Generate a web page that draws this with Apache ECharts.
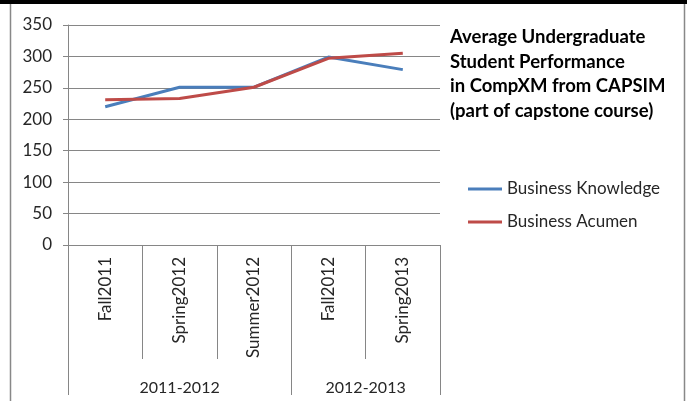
<!DOCTYPE html>
<html>
<head>
<meta charset="utf-8">
<script src="https://cdn.jsdelivr.net/npm/echarts@6/dist/echarts.min.js"></script>
<style>
  html, body { margin: 0; padding: 0; background: #fff; }
  #chart { width: 687px; height: 401px; }
</style>
</head>
<body>
<div id="chart"></div>
<script>
// Semesters along the bottom axis, grouped by academic year
const semesters = ['Fall2011', 'Spring2012', 'Summer2012', 'Fall2012', 'Spring2013'];
const yearGroups = ['2011-2012', '2012-2013'];
const yearGroupSizes = [3, 2];

// Average CompXM scores
const businessKnowledge = [220, 251, 251, 299, 279];
const businessAcumen = [231, 233, 251, 297, 305];

const yTicks = [0, 50, 100, 150, 200, 250, 300, 350];

const titleText = 'Average Undergraduate\nStudent Performance\nin CompXM from CAPSIM\n(part of capstone course)';

// Group boundaries and label centers, in semester units
const groupEdges = [0];
yearGroupSizes.forEach(function (n) { groupEdges.push(groupEdges[groupEdges.length - 1] + n); });
const groupCenters = yearGroupSizes.map(function (n, i) { return groupEdges[i] + n / 2; });

const FONT = 'Lato, "Open Sans", sans-serif';
const TEXT = '#262626';
const GRID = '#868686';

const chart = echarts.init(document.getElementById('chart'), null, { renderer: 'canvas' });

chart.setOption({
  backgroundColor: '#ffffff',
  animation: false,
  title: {
    text: titleText,
    left: 445,
    top: 20,
    textStyle: { fontFamily: FONT, fontSize: 18.5, fontWeight: 'bold', color: '#000', lineHeight: 24.5 }
  },
  legend: {
    orient: 'vertical',
    left: 463,
    top: 174,
    itemWidth: 34,
    itemHeight: 3,
    itemGap: 13,
    icon: 'rect',
    textStyle: { fontFamily: FONT, fontSize: 17, color: TEXT, lineHeight: 20 },
    data: ['Business Knowledge', 'Business Acumen']
  },
  grid: { left: 68, right: 247, top: 25, bottom: 156, containLabel: false },
  xAxis: [
    {
      type: 'category',
      data: semesters,
      boundaryGap: true,
      axisLine: { show: true, lineStyle: { color: GRID, width: 1 } },
      axisTick: { show: true, length: 114, lineStyle: { color: GRID } },
      axisLabel: {
        rotate: 90, margin: 12, interval: 0,
        fontFamily: FONT, fontSize: 17, color: TEXT
      },
      splitLine: { show: false }
    },
    {
      type: 'value',
      position: 'bottom',
      min: 0,
      max: semesters.length,
      axisLine: { show: false },
      axisTick: { show: true, length: 150, customValues: groupEdges, lineStyle: { color: GRID } },
      axisLabel: {
        customValues: groupCenters,
        margin: 135,
        fontFamily: FONT, fontSize: 16, color: TEXT,
        formatter: function (v) {
          const i = groupCenters.indexOf(v);
          return i >= 0 ? yearGroups[i] : '';
        }
      },
      splitLine: { show: false }
    }
  ],
  yAxis: {
    type: 'value',
    min: yTicks[0],
    max: yTicks[yTicks.length - 1],
    interval: 50,
    axisLine: { show: true, lineStyle: { color: GRID } },
    axisTick: { show: true, length: 5, lineStyle: { color: GRID } },
    axisLabel: { margin: 16, fontFamily: FONT, fontSize: 17, color: TEXT },
    splitLine: { show: true, lineStyle: { color: GRID, width: 1 } }
  },
  series: [
    {
      name: 'Business Knowledge',
      type: 'line',
      data: businessKnowledge,
      xAxisIndex: 0,
      showSymbol: false,
      symbol: 'none',
      lineStyle: { color: '#4A7EBB', width: 3 },
      itemStyle: { color: '#4A7EBB' },
      z: 3
    },
    {
      name: 'Business Acumen',
      type: 'line',
      data: businessAcumen,
      xAxisIndex: 0,
      showSymbol: false,
      symbol: 'none',
      lineStyle: { color: '#BE4B48', width: 3 },
      itemStyle: { color: '#BE4B48' },
      z: 4
    }
  ],
  graphic: [
    // chart-area frame
    { type: 'rect', shape: { x: 0, y: 0, width: 687, height: 4 }, style: { fill: '#000' }, silent: true },
    { type: 'line', shape: { x1: 10.5, y1: 4, x2: 10.5, y2: 401 }, style: { stroke: '#888', lineWidth: 1.5 }, silent: true },
    { type: 'line', shape: { x1: 684.5, y1: 4, x2: 684.5, y2: 401 }, style: { stroke: '#888', lineWidth: 1.5 }, silent: true }
  ]
});
</script>
</body>
</html>
